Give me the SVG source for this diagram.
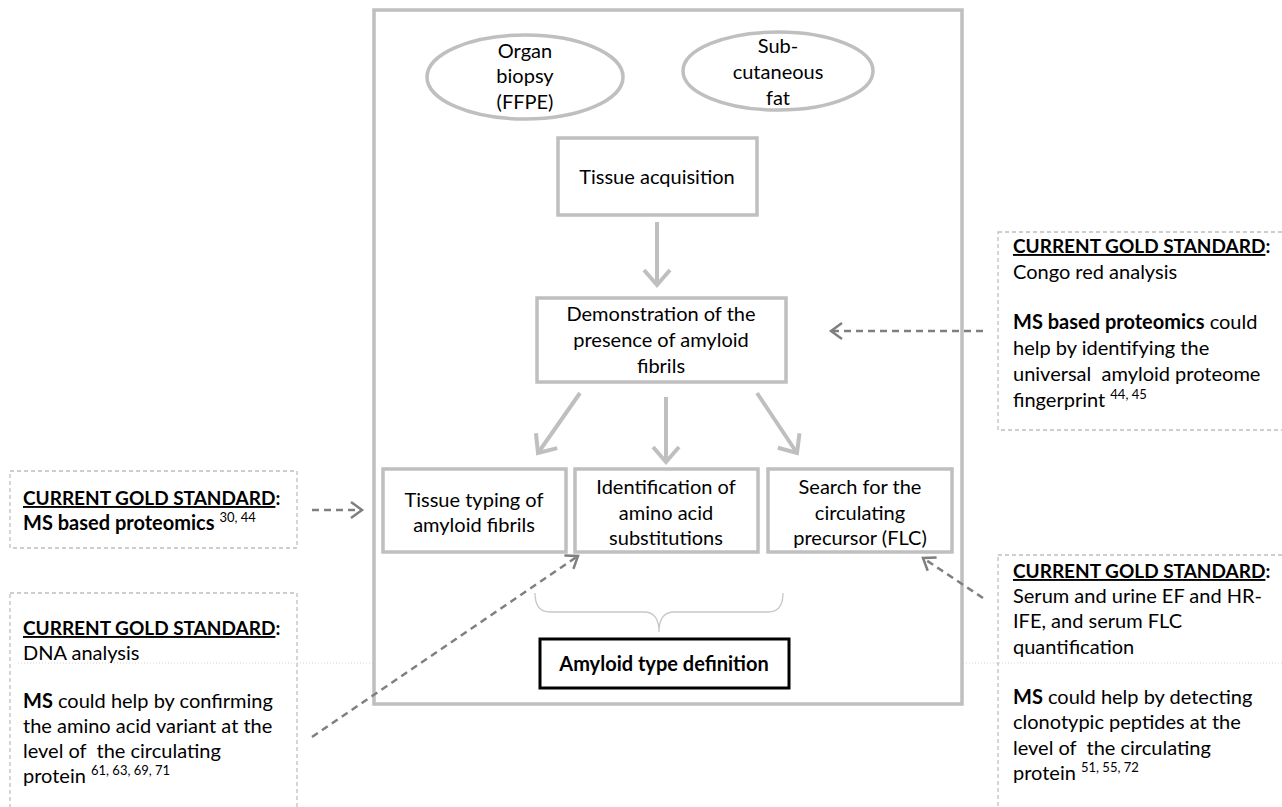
<svg xmlns="http://www.w3.org/2000/svg" width="1282" height="807" viewBox="0 0 1282 807">
<style>
.t{font-family:Lato,"Liberation Sans",sans-serif;font-size:20px;fill:#000}
.h{font-size:19px}
.c{text-anchor:middle}
.b{font-weight:bold}
.u{text-decoration:underline}
.sup{font-size:13px;font-weight:normal}
.box{fill:#fff;stroke:#bfbfbf;stroke-width:3.5}
.note{fill:none;stroke:#bfbfbf;stroke-width:1.3;stroke-dasharray:4 3}
.arr{fill:none;stroke:#bfbfbf;stroke-width:4}
.dash{fill:none;stroke:#7f7f7f;stroke-width:2.5;stroke-dasharray:7 5}
</style>
<defs>
<marker id="ah" markerUnits="userSpaceOnUse" markerWidth="40" markerHeight="40" viewBox="-20 -20 40 40" refX="0" refY="0" orient="auto">
<path d="M-15,-13 L0,0 L-15,13" fill="none" stroke="#bfbfbf" stroke-width="4"/>
</marker>
<marker id="dh" markerUnits="userSpaceOnUse" markerWidth="30" markerHeight="30" viewBox="-15 -15 30 30" refX="0" refY="0" orient="auto">
<path d="M-11,-8 L0,0 L-11,8" fill="none" stroke="#7f7f7f" stroke-width="2.5"/>
</marker>
</defs>
<rect width="1282" height="807" fill="#fff"/>
<line x1="18" y1="663" x2="1282" y2="663" stroke="#d4d4d4" stroke-width="1" stroke-dasharray="1 2"/>

<g id="main-frame">
<rect class="box" x="374" y="10" width="588" height="694"/>
</g>

<g id="organ-biopsy">
<ellipse class="box" cx="525" cy="77" rx="98" ry="42"/>
<text class="t c" x="525" y="58">Organ</text>
<text class="t c" x="525" y="83">biopsy</text>
<text class="t c" x="525" y="109">(FFPE)</text>
</g>

<g id="subcutaneous-fat">
<ellipse class="box" cx="778" cy="71" rx="95" ry="39"/>
<text class="t c" x="778" y="53">Sub-</text>
<text class="t c" x="778" y="79">cutaneous</text>
<text class="t c" x="778" y="105">fat</text>
</g>

<g id="tissue-acquisition">
<rect class="box" x="558" y="138" width="199" height="77"/>
<text class="t c" x="657" y="184">Tissue acquisition</text>
</g>

<g id="demonstration">
<rect class="box" x="537" y="298" width="249" height="84"/>
<text class="t c" x="661" y="321">Demonstration of the</text>
<text class="t c" x="661" y="347">presence of amyloid</text>
<text class="t c" x="661" y="373">fibrils</text>
</g>

<g id="tissue-typing">
<rect class="box" x="383" y="469" width="183" height="83"/>
<text class="t c" x="474" y="507">Tissue typing of</text>
<text class="t c" x="474" y="532">amyloid fibrils</text>
</g>

<g id="identification">
<rect class="box" x="575" y="469" width="183" height="83"/>
<text class="t c" x="666" y="494">Identification of</text>
<text class="t c" x="666" y="520">amino acid</text>
<text class="t c" x="666" y="545">substitutions</text>
</g>

<g id="search-precursor">
<rect class="box" x="768" y="469" width="184" height="83"/>
<text class="t c" x="860" y="494">Search for the</text>
<text class="t c" x="860" y="520">circulating</text>
<text class="t c" x="860" y="545">precursor (FLC)</text>
</g>

<g id="brace">
<path d="M535,593 Q535,612 550,612 L644,612 Q659,612 659,632 Q659,612 674,612 L768,612 Q783,612 783,593" fill="none" stroke="#c8c8c8" stroke-width="1.3"/>
</g>

<g id="amyloid-type">
<rect x="540" y="639" width="249" height="49" fill="#fff" stroke="#000" stroke-width="3"/>
<text class="t c b" x="664" y="671">Amyloid type definition</text>
</g>

<g id="note-congo">
<rect class="note" x="998" y="232" width="300" height="198"/>
<text class="t h" x="1013" y="253"><tspan class="b u">CURRENT GOLD STANDARD</tspan><tspan class="b">:</tspan></text>
<text class="t" x="1013" y="279">Congo red analysis</text>
<text class="t" x="1013" y="329"><tspan class="b">MS based proteomics</tspan> could</text>
<text class="t" x="1013" y="355">help by identifying the</text>
<text class="t" x="1013" y="381" xml:space="preserve">universal  amyloid proteome</text>
<text class="t" x="1013" y="407">fingerprint <tspan class="sup" dy="-8">44, 45</tspan></text>
</g>

<g id="note-proteomics">
<rect class="note" x="10" y="471" width="287" height="77"/>
<text class="t h" x="23" y="505"><tspan class="b u">CURRENT GOLD STANDARD</tspan><tspan class="b">:</tspan></text>
<text class="t b" x="23" y="530">MS based proteomics <tspan class="sup" dy="-8">30, 44</tspan></text>
</g>

<g id="note-dna">
<rect class="note" x="10" y="593" width="287" height="230"/>
<text class="t h" x="23" y="635"><tspan class="b u">CURRENT GOLD STANDARD</tspan><tspan class="b">:</tspan></text>
<text class="t" x="23" y="660">DNA analysis</text>
<text class="t" x="23" y="708"><tspan class="b">MS</tspan> could help by confirming</text>
<text class="t" x="23" y="733">the amino acid variant at the</text>
<text class="t" x="23" y="758" xml:space="preserve">level of  the circulating</text>
<text class="t" x="23" y="783">protein <tspan class="sup" dy="-8">61, 63, 69, 71</tspan></text>
</g>

<g id="note-serum">
<rect class="note" x="998" y="555" width="300" height="270"/>
<text class="t h" x="1013" y="578"><tspan class="b u">CURRENT GOLD STANDARD</tspan><tspan class="b">:</tspan></text>
<text class="t" x="1013" y="603">Serum and urine EF and HR-</text>
<text class="t" x="1013" y="628">IFE, and serum FLC</text>
<text class="t" x="1013" y="654">quantification</text>
<text class="t" x="1013" y="704"><tspan class="b">MS</tspan> could help by detecting</text>
<text class="t" x="1013" y="729">clonotypic peptides at the</text>
<text class="t" x="1013" y="755" xml:space="preserve">level of  the circulating</text>
<text class="t" x="1013" y="780">protein <tspan class="sup" dy="-8">51, 55, 72</tspan></text>
</g>

<g id="connectors">
<line class="arr" x1="657" y1="222" x2="657" y2="285" marker-end="url(#ah)"/>
<line class="arr" x1="580" y1="393" x2="538" y2="453" marker-end="url(#ah)"/>
<line class="arr" x1="666" y1="397" x2="666" y2="462" marker-end="url(#ah)"/>
<line class="arr" x1="757" y1="393" x2="797" y2="453" marker-end="url(#ah)"/>
<line class="dash" x1="983" y1="331" x2="831" y2="331" marker-end="url(#dh)"/>
<line class="dash" x1="312" y1="510" x2="362" y2="510" marker-end="url(#dh)"/>
<line class="dash" x1="312" y1="737" x2="578" y2="556" marker-end="url(#dh)"/>
<line class="dash" x1="983" y1="598" x2="923" y2="558" marker-end="url(#dh)"/>
</g>
</svg>
